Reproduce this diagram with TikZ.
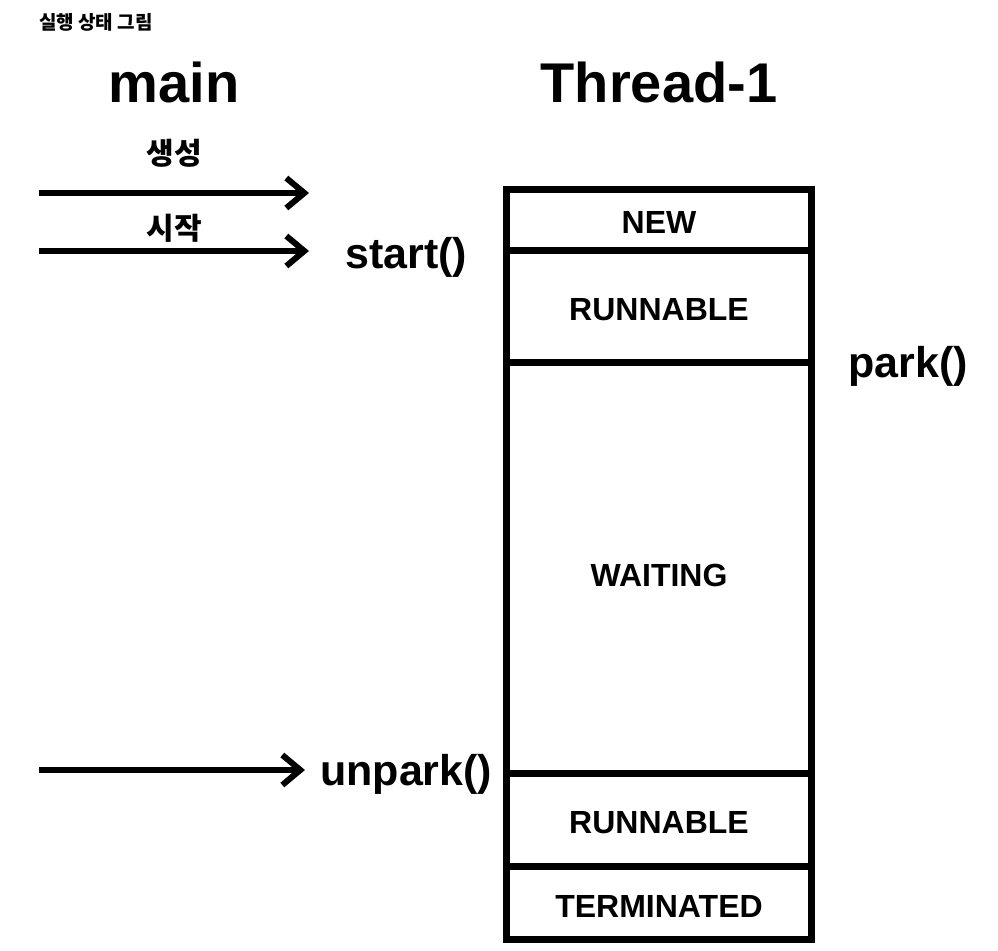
\documentclass[tikz,border=0pt]{standalone}
\usepackage{fontspec}
\setmainfont{Liberation Sans}
\newfontfamily\kr{Noto Sans CJK KR}
\usetikzlibrary{positioning,arrows.meta}

\begin{document}
\begin{tikzpicture}[
    x=1pt, y=-1pt,
    node distance=0pt, % the state cells touch each other
    >={Straight Barb[length=18pt,width=30pt]},
    state/.style={
        draw,
        line width=7pt,
        outer sep=0pt,
        minimum width=305.5pt,
        text height=28pt, text depth=0pt,
        font=\fontsize{32}{32}\selectfont\bfseries
    },
    call/.style={inner sep=0pt, anchor=base west, font=\fontsize{43}{43}\selectfont\bfseries},
    head/.style={inner sep=0pt, anchor=base, font=\fontsize{56}{56}\selectfont\bfseries},
    kor/.style={inner sep=0pt, font=\kr\bfseries\fontsize{30}{30}\selectfont},
    flow/.style={->, line width=6pt}
]
\useasboundingbox (0,0) rectangle (998,950);

% --- Titles ---
\node[inner sep=0pt, anchor=west, font=\kr\bfseries\fontsize{19}{19}\selectfont] (title) at (39,22) {실행 상태 그림};
\node[head] (main) at (174,102) {main};
\node[head] (thread) at (659,102) {Thread-1};

% States of Thread-1, stacked with 'below=of'
\node[state, minimum height=61pt] (new) at (659,219.5) {NEW};
\node[state, minimum height=112pt, below=of new] (run1) {RUNNABLE};
\node[state, minimum height=411pt, below=of run1, text height=38pt] (wait) {WAITING};
\node[state, minimum height=93.5pt, below=of wait] (run2) {RUNNABLE};
\node[state, minimum height=73pt, below=of run2] (term) {TERMINATED};

% Method calls
\node[call] (start) at (345,268) {start()};
\node[call] (park) at (848,377) {park()};
\node[call] (unpark) at (320,785) {unpark()};

% Labels over the arrows of main
\node[kor] (create) at (174,153) {생성};
\node[kor] (begin) at (174,228) {시작};

% Free ends of the arrows
\coordinate (c1) at (39,193);
\coordinate (e1) at (309,193);
\coordinate (c2) at (39,251);
\coordinate (e2) at (309,251);
\coordinate (c3) at (39,770);
\coordinate (e3) at (305,770);

\draw[flow] (c1) -- (e1);
\draw[flow] (c2) -- (e2);
\draw[flow] (c3) -- (e3);

\end{tikzpicture}
\end{document}
